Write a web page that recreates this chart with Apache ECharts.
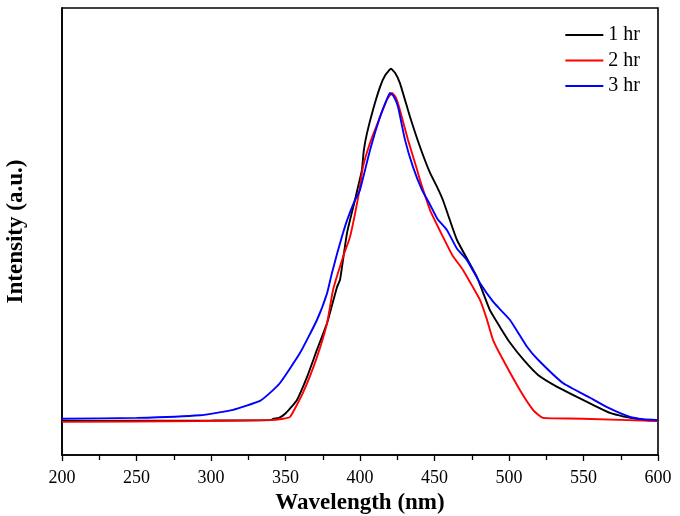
<!DOCTYPE html>
<html>
<head>
<meta charset="utf-8">
<script src="https://cdn.jsdelivr.net/npm/echarts@6/dist/echarts.min.js"></script>
<style>html,body{margin:0;padding:0;background:#fff}#c{width:680px;height:516px}</style>
</head>
<body>
<div id="c"></div>
<script>
const seriesNames = ['1 hr', '2 hr', '3 hr'];
const seriesColors = ['#000000', '#ff0000', '#0000ff'];

const wl1 = [200, 300, 340.3, 341.6, 345.6, 350.3, 357.7, 364.4, 371.1, 377.9, 384.6, 386.6, 391.3, 396.6, 398.7, 401.3, 402.5, 404.7, 408.7, 413.4, 417, 420.8, 423.5, 426.8, 433.6, 440.3, 447, 451.7, 455.7, 465.1, 478.5, 487.2, 494, 500.7, 510, 519.5, 532, 545.6, 557, 567.8, 577, 585.9, 592, 600];
const int1 = [76, 77, 78, 81, 83, 94, 123, 174, 235, 295, 376, 392, 497, 570, 600, 638, 680, 720, 772, 823, 850, 864, 855, 832, 756, 689, 631, 600, 570, 481, 398, 324, 286, 251, 212, 179, 153, 130, 111, 94, 86, 81, 78, 76];

const wl2 = [200, 292.6, 340, 348.3, 353, 361.7, 371.1, 377.9, 381.9, 388.6, 393.3, 399.3, 402, 406.7, 413.4, 418, 421.5, 424, 426.8, 432.2, 438.3, 440.3, 447, 455.7, 462, 469.1, 475, 480.5, 485, 489.3, 496, 507.4, 516.1, 520, 522.8, 530, 549.7, 600];
const int2 = [74, 76, 78, 81, 85, 139, 219, 295, 369, 443, 488, 586, 644, 698, 756, 795, 810, 800, 772, 705, 638, 615, 548, 488, 447, 414, 380, 347, 305, 257, 213, 145, 101, 89, 83, 82, 81, 76];

const wl3 = [200, 250, 292.6, 314.8, 332.9, 339.6, 346.3, 359.7, 371.1, 377.9, 381, 384.6, 388, 391.3, 396.6, 400, 406.7, 413.4, 418, 420.1, 422.5, 425.5, 430.2, 435.6, 441.6, 447, 452, 458.4, 465, 471.8, 480.5, 489.3, 494, 500.7, 512.1, 519.5, 536.2, 554.4, 565.8, 581.2, 590, 600];
const int3 = [81, 83, 89, 101, 121, 139, 161, 228, 302, 362, 405, 450, 490, 525, 570, 593, 682, 756, 795, 810, 803, 779, 705, 644, 593, 560, 528, 503, 462, 436, 385, 343, 326, 302, 242, 213, 161, 128, 107, 85, 80, 78];

const xTicks = [200, 250, 300, 350, 400, 450, 500, 550, 600];

const wls = [wl1, wl2, wl3];
const ints = [int1, int2, int3];

const chart = echarts.init(document.getElementById('c'), null, {renderer: 'canvas'});
const font = '"Liberation Serif", "Times New Roman", serif';
chart.setOption({
  animation: false,
  backgroundColor: '#ffffff',
  grid: {left: 62, right: 22, top: 8, bottom: 61, outerBoundsMode: 'none', containLabel: false,
    show: true, borderColor: '#000', borderWidth: 1.6, backgroundColor: 'transparent'},
  legend: {
    orient: 'vertical', right: 35, top: 20, itemWidth: 38, itemHeight: 2, itemGap: 5.5,
    textStyle: {fontFamily: font, fontSize: 20, lineHeight: 20, color: '#000'},
    data: seriesNames.map(n => ({name: n, icon: 'rect'}))
  },
  xAxis: {
    type: 'value', min: 200, max: 600, interval: 50,
    name: 'Wavelength (nm)', nameLocation: 'middle', nameGap: 31,
    nameTextStyle: {fontFamily: font, fontSize: 23, fontWeight: 'bold', color: '#000'},
    axisLine: {lineStyle: {color: '#000', width: 1.6}},
    axisTick: {show: true, inside: false, length: 6, lineStyle: {color: '#000', width: 1.3}},
    minorTick: {show: true, splitNumber: 2, length: 5, lineStyle: {color: '#000', width: 1.3}},
    axisLabel: {fontFamily: font, fontSize: 18, color: '#000', margin: 14,
      customValues: xTicks, formatter: v => String(v)},
    splitLine: {show: false}
  },
  yAxis: {
    type: 'value', min: 0, max: 1000,
    name: 'Intensity (a.u.)', nameLocation: 'middle', nameGap: 34,
    nameTextStyle: {fontFamily: font, fontSize: 23, fontWeight: 'bold', color: '#000'},
    axisLine: {show: true, lineStyle: {color: '#000', width: 1.6}},
    axisTick: {show: false}, axisLabel: {show: false}, splitLine: {show: false}
  },
  series: seriesNames.map((n, i) => ({
    name: n, type: 'line', symbol: 'none', smooth: 0.15,
    lineStyle: {color: seriesColors[i], width: 1.9},
    itemStyle: {color: seriesColors[i]},
    data: wls[i].map((w, j) => [w, ints[i][j]])
  }))
});
</script>
</body>
</html>
